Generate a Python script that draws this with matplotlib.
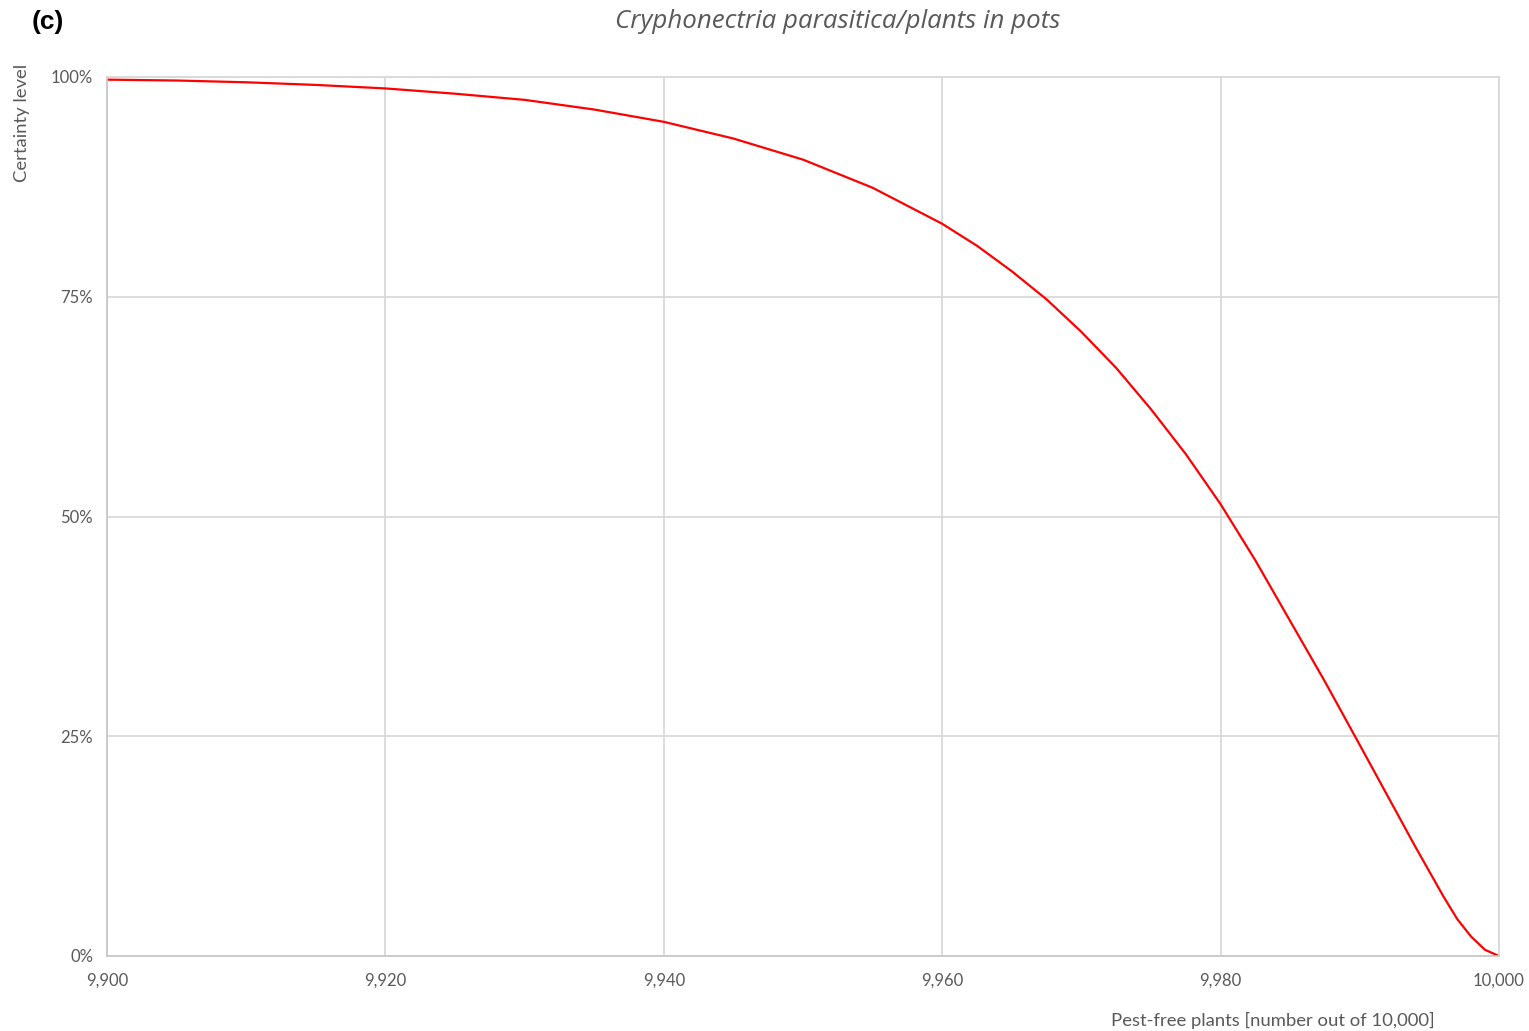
import matplotlib
matplotlib.use("Agg")
import matplotlib.pyplot as plt
from matplotlib.ticker import FuncFormatter, FixedLocator

# Data
pest_free = [9900, 9905, 9910, 9915, 9920, 9925, 9930, 9935, 9940, 9945,
             9950, 9955, 9960, 9962.5, 9965, 9967.5, 9970, 9972.5, 9975,
             9977.5, 9980, 9982.5, 9985, 9987.5, 9990, 9991, 9992, 9993,
             9994, 9995, 9996, 9997, 9998, 9999, 10000]
certainty = [99.7, 99.6, 99.4, 99.1, 98.7, 98.1, 97.4, 96.3, 94.9, 93.0,
             90.6, 87.4, 83.3, 80.8, 77.9, 74.7, 71.0, 66.9, 62.2,
             57.1, 51.4, 45.0, 38.1, 31.2, 24.0, 21.1, 18.2, 15.3,
             12.4, 9.6, 6.8, 4.2, 2.2, 0.7, 0.0]
x_ticks = [9900, 9920, 9940, 9960, 9980, 10000]
y_ticks = [0, 25, 50, 75, 100]
title = "Cryphonectria parasitica/plants in pots"
panel = "(c)"
xlabel = "Pest-free plants [number out of 10,000]"
ylabel = "Certainty level"

W, H = 1529, 1031
fig = plt.figure(figsize=(W / 100, H / 100), dpi=100)
ax = fig.add_axes([107 / W, 1 - 956 / H, (1499 - 107) / W, (956 - 77) / H])

ax.plot(pest_free, certainty, color="#ff0000", lw=1.6, solid_capstyle="round",
        solid_joinstyle="round")

ax.set_xlim(9900, 10000)
ax.set_ylim(0, 100)
ax.xaxis.set_major_locator(FixedLocator(x_ticks))
ax.yaxis.set_major_locator(FixedLocator(y_ticks))
ax.xaxis.set_major_formatter(FuncFormatter(lambda v, p: f"{int(v):,}"))
ax.yaxis.set_major_formatter(FuncFormatter(lambda v, p: f"{int(v)}%"))

grid_c = "#d9d9d9"
ax.grid(True, color=grid_c, lw=1.3)
ax.set_axisbelow(True)
for s in ax.spines.values():
    s.set_color(grid_c)
    s.set_linewidth(1.3)
ax.spines["bottom"].set_color("#c8c8c8")
ax.spines["left"].set_color("#c8c8c8")

font = "Lato"
tick_c = "#595959"
ax.tick_params(length=0, labelsize=12, labelcolor=tick_c)
for lab in ax.get_xticklabels() + ax.get_yticklabels():
    lab.set_fontfamily(font)
ax.tick_params(axis="y", pad=10)
ax.tick_params(axis="x", pad=12)

fig.text(838 / W, 1 - 21 / H, title, ha="center", va="center",
         fontsize=18.6, style="italic", color=tick_c, family="Open Sans")
fig.text(48 / W, 1 - 22 / H, panel, ha="center", va="center",
         fontsize=19, weight="bold", color="black", family="Liberation Sans")
fig.text(22 / W, 1 - 123 / H, ylabel, ha="center", va="center", rotation=90,
         fontsize=13.3, color=tick_c, family=font)
fig.text(1273 / W, 1 - 1020 / H, xlabel, ha="center", va="center",
         fontsize=13.3, color=tick_c, family=font)

fig.savefig("out.png", dpi=100, facecolor="white")
